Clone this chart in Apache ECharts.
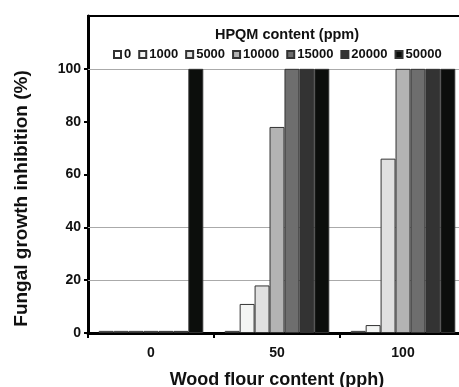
<!DOCTYPE html>
<html><head><meta charset="utf-8">
<script src="https://cdn.jsdelivr.net/npm/echarts@6/dist/echarts.min.js"></script>
<style>html,body{margin:0;padding:0;background:#fff}#c{width:459px;height:387px}</style>
</head><body><div id="c"></div>
<script>
const categories = ['0', '50', '100'];
const seriesNames = ['0', '1000', '5000', '10000', '15000', '20000', '50000'];
const s0 = [0.8, 0.8, 0.8];
const s1000 = [0.8, 11, 3];
const s5000 = [0.8, 18, 66];
const s10000 = [0.8, 78, 100];
const s15000 = [0.8, 100, 100];
const s20000 = [0.8, 100, 100];
const s50000 = [100, 100, 100];
const gridValues = [20, 40, 100];
const yTicks = [0, 20, 40, 60, 80, 100];

const values = [s0, s1000, s5000, s10000, s15000, s20000, s50000];
const colors = ['#ffffff', '#f4f5f4', '#e0e0e0', '#b3b3b3', '#6e6e6e', '#333333', '#0c0e0c'];
const font = 'Liberation Sans, Arial, sans-serif';

const series = values.map((v, i) => ({
  name: seriesNames[i],
  type: 'bar',
  data: v,
  barGap: '0%',
  barCategoryGap: '17%',
  z: 2,
  itemStyle: { color: colors[i], borderColor: '#333', borderWidth: 1 }
}));
series[0].markLine = {
  silent: true, symbol: 'none', z: 1,
  label: { show: false },
  lineStyle: { color: '#aaa', width: 1, type: 'solid' },
  data: gridValues.map(g => ({ yAxis: g }))
};

const chart = echarts.init(document.getElementById('c'));
chart.setOption({
  animation: false,
  title: {
    text: 'HPQM content (ppm)', left: 282, top: 22, textAlign: 'center',
    textStyle: { fontFamily: font, fontSize: 14.5, fontWeight: 'bold', color: '#111' }
  },
  legend: {
    data: seriesNames, top: 48, left: 113, padding: 0,
    icon: 'rect', itemWidth: 7, itemHeight: 7, itemGap: 7,
    textStyle: { fontFamily: font, fontSize: 13, fontWeight: 'bold', color: '#111', padding: [0, 0, 0, -2] }
  },
  grid: { left: 88, top: 16, right: -7, bottom: 54, show: true, borderColor: '#000', borderWidth: 2, outerBoundsMode: 'none', containLabel: false },
  xAxis: {
    type: 'category', data: categories,
    axisLine: { lineStyle: { color: '#000', width: 3 } },
    axisTick: { show: true, length: 5, lineStyle: { color: '#000', width: 2 } },
    axisLabel: { fontFamily: font, fontSize: 14, fontWeight: 'bold', color: '#111', margin: 13 },
    name: 'Wood flour content (pph)', nameLocation: 'middle', nameGap: 38,
    nameTextStyle: { fontFamily: font, fontSize: 18, fontWeight: 'bold', color: '#111' }
  },
  yAxis: {
    type: 'value', min: 0, max: 120, interval: 20,
    axisLine: { show: true, lineStyle: { color: '#000', width: 3 } },
    axisTick: { show: true, length: 4, lineStyle: { color: '#000', width: 2 }, customValues: yTicks },
    splitLine: { show: false },
    axisLabel: {
      fontFamily: font, fontSize: 14, fontWeight: 'bold', color: '#111', margin: 7,
      customValues: yTicks
    },
    name: 'Fungal growth inhibition (%)', nameLocation: 'middle', nameGap: 57,
    nameTextStyle: { fontFamily: font, fontSize: 19, fontWeight: 'bold', color: '#111', padding: [0, 48, 0, 0] }
  },
  series: series
});
</script></body></html>
